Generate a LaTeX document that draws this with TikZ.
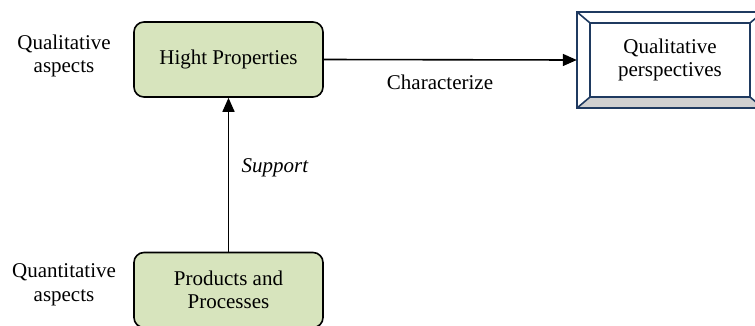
\documentclass[tikz,border=0pt]{standalone}
\usepackage{fontspec}
\setmainfont{Liberation Serif}
\usetikzlibrary{arrows.meta}
\definecolor{boxgreen}{HTML}{D7E4BD}
\definecolor{bevelblue}{HTML}{1F3A60}
\definecolor{bevelgray}{HTML}{D0D0D0}
\tikzset{
  greenbox/.style={draw=black, line width=1.6pt, fill=boxgreen, rounded corners=10pt,
    minimum width=189pt, minimum height=75pt, align=center, inner sep=0pt},
  conn/.style={draw=black, line width=1.6pt, -{Triangle[length=14pt, width=12pt]}},
  plain/.style={align=center, inner sep=0pt},
  bevelline/.style={draw=bevelblue, line width=1.6pt}
}
\begin{document}
\begin{tikzpicture}[x=1pt, y=-1pt, font=\fontsize{21}{23.5}\selectfont]
\useasboundingbox (0,0) rectangle (755,325);
\clip (0,0) rectangle (755,325);

% two green boxes
\node[greenbox] (hp) at (228.5,59.5) {Hight Properties};
\node[greenbox] (pp) at (228.5,290) {Products and\\Processes};

% bevelled box: outer frame and inner face
\node[minimum width=186pt, minimum height=96pt, inner sep=0pt] (bevel) at (670,60) {};
\node[minimum width=160pt, minimum height=74pt, inner sep=0pt, align=center] (qp) at (670,60) {Qualitative\\perspectives};
\fill[bevelgray] (bevel.south west) -- (qp.south west) -- (qp.south east) -- (bevel.south east) -- cycle;
\draw[bevelline] (bevel.south west) rectangle (bevel.north east);
\draw[bevelline] (qp.south west) rectangle (qp.north east);
\draw[bevelline] (bevel.north west) -- (qp.north west);
\draw[bevelline] (bevel.south west) -- (qp.south west);
\draw[bevelline] (bevel.north east) -- (qp.north east);
\draw[bevelline] (bevel.south east) -- (qp.south east);

% connectors
\draw[conn] (pp.north) -- (hp.south);
\draw[conn] (hp.east) -- (bevel.west);

% labels
\node[plain] (charlbl) at (440,82) {Characterize};
\node[plain, font=\fontsize{21}{23.5}\selectfont\itshape] (suplbl) at (275,168) {Support};
\node[plain] (qual) at (64,56) {Qualitative\\aspects};
\node[plain] (quant) at (64,285) {Quantitative\\aspects};
\end{tikzpicture}
\end{document}
